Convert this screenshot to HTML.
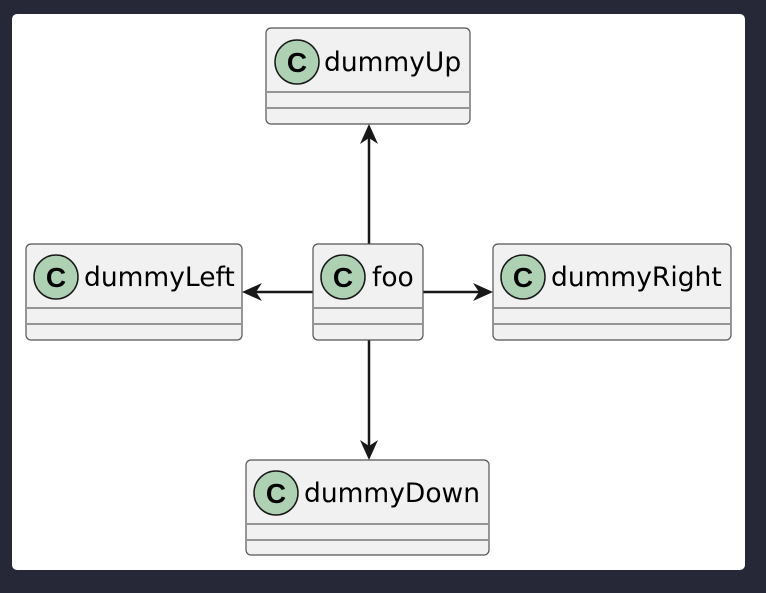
<!DOCTYPE html>
<html><head><style>body{margin:0;background:#262838;width:766px;height:588px;overflow:hidden}</style></head><body>
<svg width="766" height="588" xmlns="http://www.w3.org/2000/svg" font-family="DejaVu Sans, Liberation Sans, sans-serif">
<rect x="0" y="0" width="766" height="588" fill="#262838"/>
<rect x="12" y="14" width="733" height="556" rx="5" fill="#fff"/>
<g stroke="#181818" stroke-width="2.5" fill="none">
<line x1="369" y1="130" x2="369" y2="244"/>
<line x1="248" y1="292" x2="313" y2="292"/>
<line x1="423" y1="292" x2="488" y2="292"/>
<line x1="369" y1="340" x2="369" y2="454"/>
</g>
<g fill="#181818">
<polygon points="369,124 378,144 369,138 360,144"/>
<polygon points="242,292 262,283 256,292 262,301"/>
<polygon points="493,292 473,283 479,292 473,301"/>
<polygon points="369,460 378,440 369,446 360,440"/>
</g>
<g font-size="26.5" fill="#000">
<g><rect x="266" y="28" width="204" height="96" rx="5" fill="#f1f1f1" stroke="#555" stroke-width="1.2"/>
<circle cx="297" cy="62" r="22" fill="#add1b2" stroke="#181818" stroke-width="1.5"/>
<text x="297" y="72" text-anchor="middle" font-weight="bold" font-size="28" font-family="Liberation Sans Narrow, Liberation Sans, sans-serif">C</text>
<text x="324" y="71">dummyUp</text>
<line x1="267" y1="92" x2="469" y2="92" stroke="#777" stroke-width="1.5"/>
<line x1="267" y1="108" x2="469" y2="108" stroke="#777" stroke-width="1.5"/></g>
<g><rect x="313" y="244" width="110" height="96" rx="5" fill="#f1f1f1" stroke="#555" stroke-width="1.2"/>
<circle cx="343" cy="277" r="22" fill="#add1b2" stroke="#181818" stroke-width="1.5"/>
<text x="343" y="287" text-anchor="middle" font-weight="bold" font-size="28" font-family="Liberation Sans Narrow, Liberation Sans, sans-serif">C</text>
<text x="372" y="286">foo</text>
<line x1="314" y1="308" x2="422" y2="308" stroke="#777" stroke-width="1.5"/>
<line x1="314" y1="324" x2="422" y2="324" stroke="#777" stroke-width="1.5"/></g>
<g><rect x="26" y="244" width="216" height="96" rx="5" fill="#f1f1f1" stroke="#555" stroke-width="1.2"/>
<circle cx="56" cy="277" r="22" fill="#add1b2" stroke="#181818" stroke-width="1.5"/>
<text x="56" y="287" text-anchor="middle" font-weight="bold" font-size="28" font-family="Liberation Sans Narrow, Liberation Sans, sans-serif">C</text>
<text x="84" y="286">dummyLeft</text>
<line x1="27" y1="308" x2="241" y2="308" stroke="#777" stroke-width="1.5"/>
<line x1="27" y1="324" x2="241" y2="324" stroke="#777" stroke-width="1.5"/></g>
<g><rect x="493" y="244" width="238" height="96" rx="5" fill="#f1f1f1" stroke="#555" stroke-width="1.2"/>
<circle cx="523" cy="277" r="22" fill="#add1b2" stroke="#181818" stroke-width="1.5"/>
<text x="523" y="287" text-anchor="middle" font-weight="bold" font-size="28" font-family="Liberation Sans Narrow, Liberation Sans, sans-serif">C</text>
<text x="551" y="286">dummyRight</text>
<line x1="494" y1="308" x2="730" y2="308" stroke="#777" stroke-width="1.5"/>
<line x1="494" y1="324" x2="730" y2="324" stroke="#777" stroke-width="1.5"/></g>
<g><rect x="246" y="460" width="243" height="95" rx="5" fill="#f1f1f1" stroke="#555" stroke-width="1.2"/>
<circle cx="276" cy="493" r="22" fill="#add1b2" stroke="#181818" stroke-width="1.5"/>
<text x="276" y="503" text-anchor="middle" font-weight="bold" font-size="28" font-family="Liberation Sans Narrow, Liberation Sans, sans-serif">C</text>
<text x="304" y="502">dummyDown</text>
<line x1="247" y1="524" x2="488" y2="524" stroke="#777" stroke-width="1.5"/>
<line x1="247" y1="540" x2="488" y2="540" stroke="#777" stroke-width="1.5"/></g>
</g>
</svg>
</body></html>
